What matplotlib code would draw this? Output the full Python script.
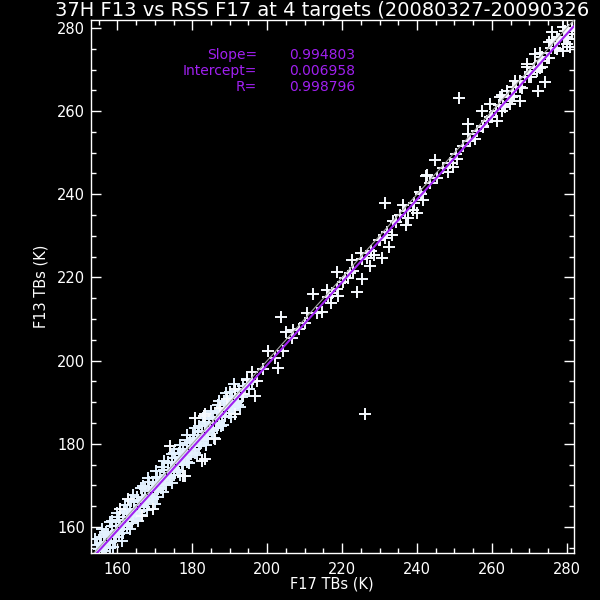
"""F13 vs RSS F17 37H brightness temperature scatter with linear fit."""

import matplotlib

matplotlib.use("Agg")
import matplotlib.pyplot as plt
import numpy as np
from matplotlib.ticker import MultipleLocator

COLORS = {
    "paper": "#000000",
    "ink": "#FFFFFF",
    "dense": "#E4F2FF",
    "marks": "#F6FAFF",
    "fit": "#A020F0",
    "unity": "#A8A8A8",
}

# the title runs past the right edge in the source image; this is the part that shows
TITLE = "37H F13 vs RSS F17 at 4 targets (20080327-20090326"
X_LABEL = "F17 TBs (K)"
Y_LABEL = "F13 TBs (K)"
X_RANGE = (152.85, 281.8)
Y_RANGE = (153.7, 281.95)

SLOPE = 0.994803
INTERCEPT = 0.006958
R_VALUE = 0.998796

# dense cloud, cold end
dense_x = [
    154.5, 155.5, 156.5, 157.5, 158.5, 159.5, 160.5, 161.5, 162.5, 163.5, 164.5, 165.5, 166.5, 167.5,
    168.5, 169.5, 170.5, 171.5, 172.5, 173.5, 174.5, 175.5, 176.5, 177.5, 178.5, 179.5, 180.5, 181.5,
    182.5, 183.5, 184.5, 185.5, 186.5, 187.5, 188.5, 189.5, 190.5, 191.5, 192.5, 193.5, 194.5,
    154.2, 155.0, 155.8, 156.7, 157.6, 158.3, 159.1, 160.0, 160.8, 161.7, 162.6, 163.4, 164.1, 165.0,
    165.9, 166.8, 167.6, 168.4, 169.2, 170.1, 171.0, 171.8, 172.7, 173.5, 174.3, 175.2, 176.0, 176.9,
    177.8, 178.6, 179.4, 180.3, 181.2, 182.0, 182.9, 183.8, 184.6, 185.5, 186.3, 187.2, 188.0, 188.9,
    189.8, 190.6, 191.5, 192.3, 193.2, 194.1, 195.0, 196.0,
    154.8, 155.9, 157.0, 158.1, 159.3, 160.4, 161.5, 162.7, 163.8, 164.9, 166.1, 167.2, 168.3, 169.5,
    170.6, 171.7, 172.9, 174.0, 175.1, 176.3, 177.4, 178.5, 179.7, 180.8, 181.9, 183.1, 184.2, 185.3,
    186.5, 187.6, 188.7, 189.9, 191.0, 192.2, 193.4,
    155.3, 156.9, 158.6, 160.2, 161.9, 163.6, 165.2, 166.9, 168.5, 170.2, 171.9, 173.5, 175.2, 176.8,
    178.5, 180.1, 181.8, 183.5, 185.1, 186.8, 188.4, 190.1,
    156.2, 158.9, 161.1, 163.3, 165.6, 167.8, 170.0, 172.3, 174.6, 176.8, 179.0, 181.3, 183.6, 185.8,
    188.1, 190.4, 192.7,
    154.9, 156.4, 157.9, 159.6, 161.2, 162.9, 164.4, 166.0, 167.7, 169.3, 170.9, 172.5, 174.1, 175.8,
    177.3, 178.9, 180.6, 182.2, 183.9, 185.4, 187.0, 188.6, 190.3, 191.8, 193.5, 195.2,
    154.0, 156.0, 158.0, 160.0, 162.1, 164.2, 166.2, 168.3, 170.4, 172.4, 174.5, 176.6, 178.7, 180.7,
    182.8, 184.9, 187.0, 189.1, 191.2,
]
dense_y = [
    155.7, 156.1, 158.0, 158.4, 160.3, 160.2, 161.8, 162.5, 164.1, 164.3, 165.9, 166.6, 167.0, 169.2,
    169.7, 170.4, 172.0, 172.1, 173.8, 175.3, 175.3, 176.6, 177.9, 178.2, 180.1, 180.5, 181.4, 182.8,
    183.1, 184.7, 186.0, 186.3, 187.6, 188.2, 189.9, 190.4, 191.1, 192.7, 193.3, 194.0, 195.5,
    153.3, 154.6, 154.5, 156.0, 156.5, 157.8, 157.7, 159.2, 160.2, 160.5, 161.7, 163.1, 163.1, 163.5,
    165.2, 166.4, 166.4, 167.5, 168.6, 168.8, 170.0, 171.3, 171.9, 172.1, 173.6, 174.1, 175.6, 176.0,
    176.6, 178.0, 177.9, 179.5, 180.9, 181.0, 181.6, 183.1, 183.7, 185.0, 185.1, 186.4, 186.6, 188.3,
    188.8, 190.2, 190.4, 191.6, 191.9, 193.2, 194.5, 194.8,
    152.5, 153.0, 154.9, 154.9, 156.7, 158.4, 158.5, 160.3, 161.0, 162.7, 163.0, 164.7, 166.3, 166.8,
    167.3, 169.4, 170.0, 171.9, 172.5, 173.3, 175.0, 175.7, 177.5, 177.7, 179.4, 181.1, 181.3, 183.0,
    183.8, 184.4, 186.6, 187.3, 188.6, 189.4, 191.2,
    157.7, 158.8, 161.4, 162.4, 163.7, 166.2, 167.2, 169.8, 170.8, 171.9, 174.4, 175.6, 177.9, 178.7,
    180.9, 182.1, 184.4, 185.3, 187.3, 189.3, 190.3, 192.4,
    152.1, 155.2, 156.7, 159.4, 161.4, 164.2, 165.5, 168.5, 170.6, 172.5, 175.3, 177.2, 179.7, 181.4,
    184.5, 186.4, 188.9,
    153.2, 154.3, 156.1, 157.5, 159.4, 160.8, 162.6, 163.9, 165.9, 167.2, 169.1, 170.4, 172.3, 173.6,
    175.5, 176.8, 178.7, 180.1, 182.0, 183.4, 185.0, 186.8, 188.2, 189.9, 191.4, 193.3,
    157.2, 159.5, 161.1, 163.4, 165.2, 167.6, 169.3, 171.7, 173.5, 175.9, 177.6, 179.8, 182.1, 183.8,
    186.2, 188.0, 190.3, 192.2, 194.3,
]

# scattered crosses along the whole range
sparse_x = [
    166.5, 169.6, 182.5, 177.6, 174.1, 180.7, 183.4, 162.9, 160.7, 183.4, 186.1, 191.4, 178.1,
    183.0, 187.4, 189.2, 191.4, 193.6, 194.6, 195.9, 196.8, 197.2, 199.0, 200.3, 202.1, 202.8,
    203.6, 204.3, 205.0, 207.0,
    206.5, 208.4, 210.2, 210.6, 212.2, 213.2, 214.6, 215.9, 216.3, 217.0, 217.2, 218.5, 218.6,
    219.0, 220.3, 220.8, 221.7, 222.1, 222.7, 223.0, 223.9, 225.1, 225.3, 225.4, 226.6, 227.5,
    227.7, 228.4, 229.9, 230.1, 230.6, 231.5, 231.5, 232.1, 232.4, 233.3, 233.5, 234.5, 235.5,
    236.2, 236.8, 237.0, 237.7, 239.0, 239.2, 240.0, 240.8, 241.0, 241.7, 242.4,
    226.0, 251.2,
    242.6, 243.5, 244.8, 245.2, 247.0, 248.4, 248.8, 249.7, 250.5, 250.6, 252.3, 253.7, 253.7,
    254.1, 255.5, 255.9, 256.0, 257.3, 257.6, 257.7, 258.6, 259.4, 259.5, 260.0, 261.1, 261.3,
    262.2, 262.6, 264.0, 264.9, 265.7, 267.5, 267.5, 269.3, 270.2, 271.5, 272.0, 272.4, 272.9,
    273.3, 274.2, 275.1, 276.0, 277.3, 279.5,
    262.0, 263.0, 264.2, 265.3, 266.5, 267.6, 268.8, 270.0, 271.1, 272.3, 273.4, 274.6, 275.7,
    276.9, 278.0, 279.2, 280.3, 281.3,
    263.5, 265.8, 268.1, 270.5, 272.8, 275.1, 277.4, 279.7,
    262.8, 266.1, 269.4, 272.7, 276.0, 279.0,
    280.0, 279.1, 280.4, 280.9, 281.3, 281.3,
]
sparse_y = [
    162.7, 164.3, 175.9, 172.3, 179.5, 186.3, 187.1, 166.7, 164.3, 176.3, 181.1, 187.1, 172.3,
    186.8, 188.7, 190.7, 193.1, 191.9, 195.4, 197.2, 191.6, 195.0, 198.1, 202.2, 200.6, 198.3,
    210.5, 202.2, 207.0, 207.4,
    205.4, 207.6, 209.1, 211.4, 216.0, 211.4, 211.8, 217.0, 215.4, 213.8, 216.2, 217.3, 221.2,
    215.6, 219.0, 219.9, 219.8, 221.0, 224.2, 221.6, 216.5, 225.9, 219.6, 224.5, 224.6, 222.8,
    226.4, 225.4, 228.9, 229.0, 224.6, 237.9, 229.4, 231.0, 227.4, 230.2, 233.5, 233.4, 235.0,
    237.5, 235.9, 232.6, 234.2, 236.2, 237.8, 235.4, 240.6, 240.1, 238.6, 244.4,
    187.1, 263.2,
    244.6, 242.6, 248.3, 244.0, 246.3, 245.3, 247.5, 246.5, 249.6, 248.6, 251.5, 256.9, 254.5,
    252.8, 253.3, 255.1, 255.3, 260.1, 256.4, 256.1, 257.7, 258.6, 261.7, 258.5, 260.0, 257.7,
    263.3, 260.1, 264.9, 261.7, 265.7, 262.5, 267.3, 271.3, 268.9, 273.7, 269.7, 264.9, 272.1,
    270.5, 266.9, 276.5, 278.9, 277.7, 279.3,
    261.5, 261.2, 263.6, 263.5, 265.9, 265.8, 268.1, 268.2, 270.4, 270.6, 272.9, 272.8, 275.1,
    275.2, 277.4, 277.6, 279.6, 280.0,
    260.9, 263.7, 265.6, 268.2, 270.3, 272.8, 275.0, 277.9,
    263.8, 267.2, 270.6, 273.9, 277.1, 280.3,
    276.1, 274.5, 277.3, 275.3, 278.5, 279.3,
]


def _style_axis(axis: plt.Axes) -> None:
    axis.set_facecolor(COLORS["paper"])
    for spine in axis.spines.values():
        spine.set_color(COLORS["ink"])
        spine.set_linewidth(1.0)
    axis.xaxis.set_major_locator(MultipleLocator(20))
    axis.xaxis.set_minor_locator(MultipleLocator(5))
    axis.yaxis.set_major_locator(MultipleLocator(20))
    axis.yaxis.set_minor_locator(MultipleLocator(5))
    axis.tick_params(which="both", direction="in", top=True, right=True, colors=COLORS["ink"],
                     labelsize=10.5, width=1.0)
    axis.tick_params(which="major", length=7.5)
    axis.tick_params(which="minor", length=3.8)
    axis.tick_params(axis="x", pad=6)
    axis.tick_params(axis="y", pad=4)


def main() -> None:
    plt.rcParams.update({"font.family": "DejaVu Sans", "text.color": COLORS["ink"]})
    figure = plt.figure(figsize=(6, 6), dpi=100, facecolor=COLORS["paper"])
    axis = figure.add_axes([0.151, 0.078, 0.805, 0.889])
    _style_axis(axis)

    axis.plot(dense_x, dense_y, linestyle="none", marker="+", markersize=9, markeredgewidth=1.4,
              color=COLORS["dense"], zorder=2)
    axis.plot(sparse_x, sparse_y, linestyle="none", marker="+", markersize=9, markeredgewidth=1.4,
              color=COLORS["marks"], zorder=2)

    line_x = np.array(X_RANGE)
    axis.plot(line_x, line_x, color=COLORS["unity"], linewidth=0.8, zorder=3)
    axis.plot(line_x, SLOPE * line_x + INTERCEPT, color=COLORS["fit"], linewidth=1.5, zorder=4)

    axis.set_xlim(*X_RANGE)
    axis.set_ylim(*Y_RANGE)
    axis.set_xlabel(X_LABEL, color=COLORS["ink"], fontsize=10.5, labelpad=0)
    axis.set_ylabel(Y_LABEL, color=COLORS["ink"], fontsize=10.5, labelpad=6)

    rows = (("Slope=", SLOPE), ("Intercept=", INTERCEPT), ("R=", R_VALUE))
    for index, (name, value) in enumerate(rows):
        y_pos = 1 - (55 + 16 * index) / 600
        figure.text(257 / 600, y_pos, name, color=COLORS["fit"], fontsize=10, ha="right", va="center")
        figure.text(289 / 600, y_pos, f"{value:.6f}", color=COLORS["fit"], fontsize=10, ha="left",
                    va="center")

    figure.text(55 / 600, 1 - 11 / 600, TITLE, color=COLORS["ink"], fontsize=14, ha="left", va="center")
    figure.savefig("out.png", dpi=100, facecolor=COLORS["paper"])
    plt.close(figure)


if __name__ == "__main__":
    main()
